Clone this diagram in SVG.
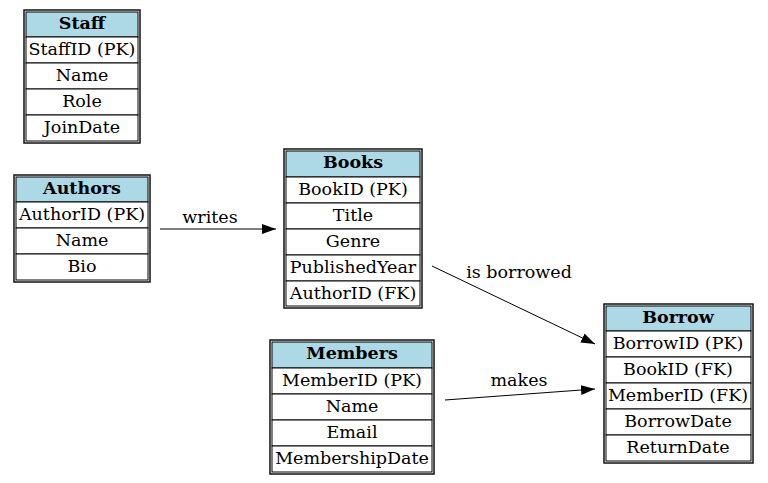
<svg xmlns="http://www.w3.org/2000/svg" width="768" height="483" viewBox="0 0 768 483">
<style>
.outer{fill:none;stroke:#111;stroke-width:1.5}
.hd{fill:#add8e6;stroke:#000;stroke-width:1}
.cell{fill:#fff;stroke:#000;stroke-width:1}
text{font-family:"DejaVu Serif",serif;font-size:17.5px;text-anchor:middle;fill:#000}
.b{font-weight:bold}
.edge{fill:none;stroke:#000;stroke-width:1}
</style>
<defs>
<marker id="ah" markerWidth="14" markerHeight="10" refX="14" refY="5" orient="auto" markerUnits="userSpaceOnUse">
<path d="M0,0 L14,5 L0,10 Z" fill="#000"/>
</marker>
</defs>
<rect width="768" height="483" fill="#fff"/>

<g id="Staff">
<rect class="outer" x="24" y="10" width="116" height="133"/>
<rect class="hd" x="26" y="12" width="112" height="25"/>
<rect class="cell" x="26" y="37" width="112" height="26"/>
<rect class="cell" x="26" y="63" width="112" height="26"/>
<rect class="cell" x="26" y="89" width="112" height="26"/>
<rect class="cell" x="26" y="115" width="112" height="26"/>
<text class="b" x="82" y="28.5">Staff</text>
<text x="82" y="55">StaffID (PK)</text>
<text x="82" y="81">Name</text>
<text x="82" y="107">Role</text>
<text x="82" y="133">JoinDate</text>
</g>

<g id="Authors">
<rect class="outer" x="14" y="175" width="136" height="107"/>
<rect class="hd" x="16" y="177" width="132" height="25"/>
<rect class="cell" x="16" y="202" width="132" height="26"/>
<rect class="cell" x="16" y="228" width="132" height="26"/>
<rect class="cell" x="16" y="254" width="132" height="26"/>
<text class="b" x="82" y="193.5">Authors</text>
<text x="82" y="220">AuthorID (PK)</text>
<text x="82" y="246">Name</text>
<text x="82" y="272">Bio</text>
</g>

<g id="Books">
<rect class="outer" x="284" y="149" width="138" height="159"/>
<rect class="hd" x="286" y="151" width="134" height="26"/>
<rect class="cell" x="286" y="177" width="134" height="26"/>
<rect class="cell" x="286" y="203" width="134" height="26"/>
<rect class="cell" x="286" y="229" width="134" height="26"/>
<rect class="cell" x="286" y="255" width="134" height="26"/>
<rect class="cell" x="286" y="281" width="134" height="25"/>
<text class="b" x="353" y="167.5">Books</text>
<text x="353" y="195">BookID (PK)</text>
<text x="353" y="221">Title</text>
<text x="353" y="247">Genre</text>
<text x="353" y="273">PublishedYear</text>
<text x="353" y="299">AuthorID (FK)</text>
</g>

<g id="Members">
<rect class="outer" x="270" y="340" width="164" height="134"/>
<rect class="hd" x="272" y="342" width="160" height="26"/>
<rect class="cell" x="272" y="368" width="160" height="26"/>
<rect class="cell" x="272" y="394" width="160" height="26"/>
<rect class="cell" x="272" y="420" width="160" height="26"/>
<rect class="cell" x="272" y="446" width="160" height="26"/>
<text class="b" x="352" y="358.5">Members</text>
<text x="352" y="386">MemberID (PK)</text>
<text x="352" y="412">Name</text>
<text x="352" y="438">Email</text>
<text x="352" y="464">MembershipDate</text>
</g>

<g id="Borrow">
<rect class="outer" x="604" y="304" width="149" height="159"/>
<rect class="hd" x="606" y="306" width="145" height="25"/>
<rect class="cell" x="606" y="331" width="145" height="26"/>
<rect class="cell" x="606" y="357" width="145" height="26"/>
<rect class="cell" x="606" y="383" width="145" height="26"/>
<rect class="cell" x="606" y="409" width="145" height="26"/>
<rect class="cell" x="606" y="435" width="145" height="26"/>
<text class="b" x="678" y="322.5">Borrow</text>
<text x="678" y="349">BorrowID (PK)</text>
<text x="678" y="375">BookID (FK)</text>
<text x="678" y="401">MemberID (FK)</text>
<text x="678" y="427">BorrowDate</text>
<text x="678" y="453">ReturnDate</text>
</g>

<g id="edges">
<line class="edge" x1="160" y1="229" x2="276" y2="229" marker-end="url(#ah)"/>
<text x="210" y="223">writes</text>
<line class="edge" x1="432" y1="266" x2="595" y2="344" marker-end="url(#ah)"/>
<text x="519" y="278">is borrowed</text>
<line class="edge" x1="445" y1="400" x2="595" y2="389" marker-end="url(#ah)"/>
<text x="519" y="386">makes</text>
</g>
</svg>
